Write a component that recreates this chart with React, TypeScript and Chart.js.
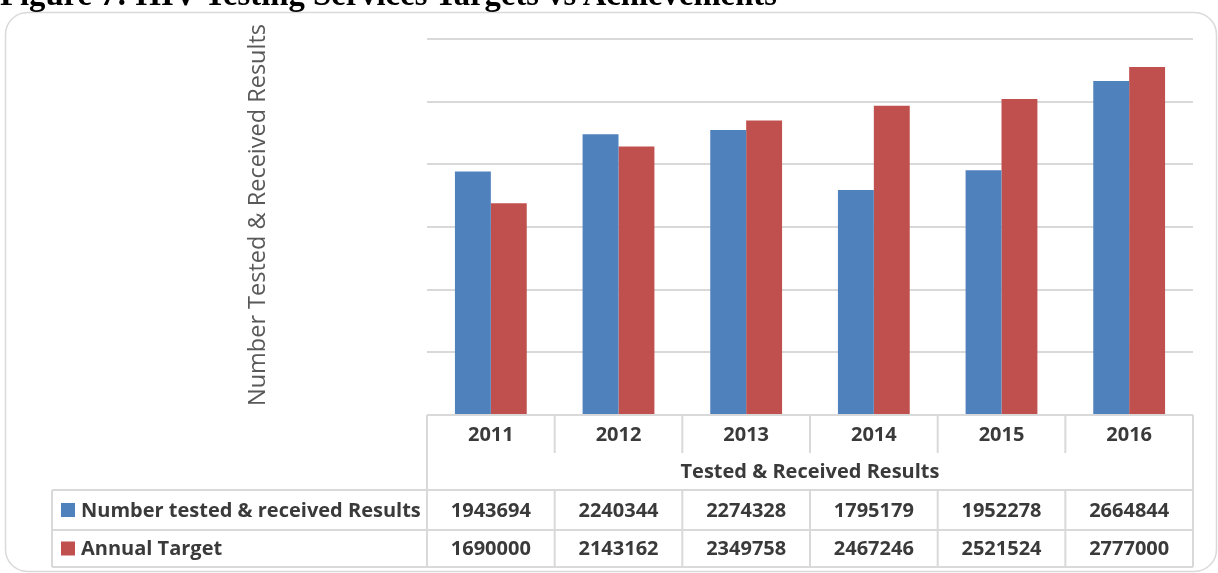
import React, { useEffect, useRef } from 'react';
import { Chart, registerables } from 'chart.js';

Chart.register(...registerables);

const chartTitle = 'Figure 7: HIV Testing Services Targets vs Achievements';
const yAxisTitle = 'Number Tested & Received Results';
const xAxisTitle = 'Tested & Received Results';
const categories = ['2011', '2012', '2013', '2014', '2015', '2016'];
const seriesNames = ['Number tested & received Results', 'Annual Target'];
const testedValues = [1943694, 2240344, 2274328, 1795179, 1952278, 2664844];
const targetValues = [1690000, 2143162, 2349758, 2467246, 2521524, 2777000];
const seriesColors = ['#4F81BD', '#C0504D'];
const yMin = 0;
const yMax = 3000000;
const yStep = 500000;

const GRID = '#d9d9d9';
const TEXT = '#3a3a3a';
const TABLE_FONT = 'bold 20px "Open Sans"';

const tablePlugin = {
  id: 'dataTable',
  beforeDraw(chart: any) {
    const ctx = chart.ctx as CanvasRenderingContext2D;
    ctx.save();
    ctx.strokeStyle = GRID;
    ctx.lineWidth = 1.5;
    ctx.beginPath();
    (ctx as any).roundRect(5.5, 12.5, 1211, 559, 22);
    ctx.stroke();
    ctx.restore();
  },
  afterDraw(chart: any) {
    const ctx = chart.ctx as CanvasRenderingContext2D;
    const { chartArea } = chart;
    const L = chartArea.left;
    const R = chartArea.right;
    const B = chartArea.bottom;
    const n = categories.length;
    const colW = (R - L) / n;
    const catB = B + 38;
    const titleB = B + 75;
    const row1B = B + 115;
    const row2B = B + 152;
    const tableLeft = 52;

    ctx.save();
    ctx.strokeStyle = GRID;
    ctx.lineWidth = 2;
    const line = (x1: number, y1: number, x2: number, y2: number) => {
      ctx.beginPath();
      ctx.moveTo(x1, y1);
      ctx.lineTo(x2, y2);
      ctx.stroke();
    };
    line(L, B, R, B);
    line(tableLeft, titleB, R, titleB);
    line(tableLeft, row1B, R, row1B);
    line(tableLeft, row2B, R, row2B);
    line(L, B, L, row2B);
    line(R, B, R, row2B);
    line(tableLeft, titleB, tableLeft, row2B);
    for (let i = 1; i < n; i++) {
      const x = L + colW * i;
      line(x, B, x, catB);
      line(x, titleB, x, row2B);
    }

    ctx.fillStyle = TEXT;
    ctx.font = TABLE_FONT;
    ctx.textAlign = 'center';
    ctx.textBaseline = 'middle';
    const xs = chart.scales.x;
    const rows = [testedValues, targetValues];
    const rowMids = [(titleB + row1B) / 2, (row1B + row2B) / 2];
    categories.forEach((c, i) => {
      const cx = xs.getPixelForValue(i);
      ctx.fillText(c, cx, (B + catB) / 2 + 1);
      rows.forEach((vals, r) => {
        ctx.fillText(String(vals[i]), cx, rowMids[r] + 1);
      });
    });
    ctx.fillText(xAxisTitle, (L + R) / 2, (catB + titleB) / 2 + 1);

    ctx.textAlign = 'left';
    seriesNames.forEach((name, r) => {
      ctx.fillStyle = seriesColors[r];
      ctx.fillRect(61, rowMids[r] - 7, 14, 14);
      ctx.fillStyle = TEXT;
      ctx.fillText(name, 81, rowMids[r] + 1);
    });

    ctx.save();
    ctx.translate(258, 215);
    ctx.rotate(-Math.PI / 2);
    ctx.font = '23.5px "Open Sans"';
    ctx.fillStyle = '#595959';
    ctx.textAlign = 'center';
    ctx.textBaseline = 'middle';
    ctx.fillText(yAxisTitle, 0, 0);
    ctx.restore();

    ctx.restore();
  },
};

export default function App() {
  const canvasRef = useRef<HTMLCanvasElement | null>(null);

  useEffect(() => {
    const canvas = canvasRef.current;
    if (!canvas) return;
    const chart = new Chart(canvas, {
      type: 'bar',
      data: {
        labels: categories,
        datasets: [
          {
            label: seriesNames[0],
            data: testedValues,
            backgroundColor: seriesColors[0],
            categoryPercentage: 0.5625,
            barPercentage: 1,
          },
          {
            label: seriesNames[1],
            data: targetValues,
            backgroundColor: seriesColors[1],
            categoryPercentage: 0.5625,
            barPercentage: 1,
          },
        ],
      },
      options: {
        animation: false,
        responsive: false,
        maintainAspectRatio: false,
        layout: { padding: { left: 427, right: 25, top: 39, bottom: 158 } },
        plugins: {
          legend: { display: false },
          tooltip: { enabled: false },
          title: { display: false },
        },
        scales: {
          x: { display: false },
          y: {
            min: yMin,
            max: yMax,
            ticks: { display: false, stepSize: yStep },
            grid: { color: GRID, lineWidth: 2, drawTicks: false },
            border: { display: false },
          },
        },
      },
      plugins: [tablePlugin],
    } as any);
    return () => chart.destroy();
  }, []);

  return (
    <div style={{ position: 'fixed', left: 0, top: 0, width: 1218, height: 573, overflow: 'hidden', background: '#fff' }}>
      <canvas ref={canvasRef} width={1218} height={573} style={{ position: 'absolute', left: 0, top: 0, width: 1218, height: 573 }} />
      <div
        style={{
          position: 'absolute',
          left: 0,
          top: -22,
          fontFamily: '"Liberation Serif", "Times New Roman", serif',
          fontWeight: 'bold',
          fontSize: 32.7,
          lineHeight: '32px',
          whiteSpace: 'nowrap',
          color: '#000',
        }}
      >
        {chartTitle}
      </div>
    </div>
  );
}
